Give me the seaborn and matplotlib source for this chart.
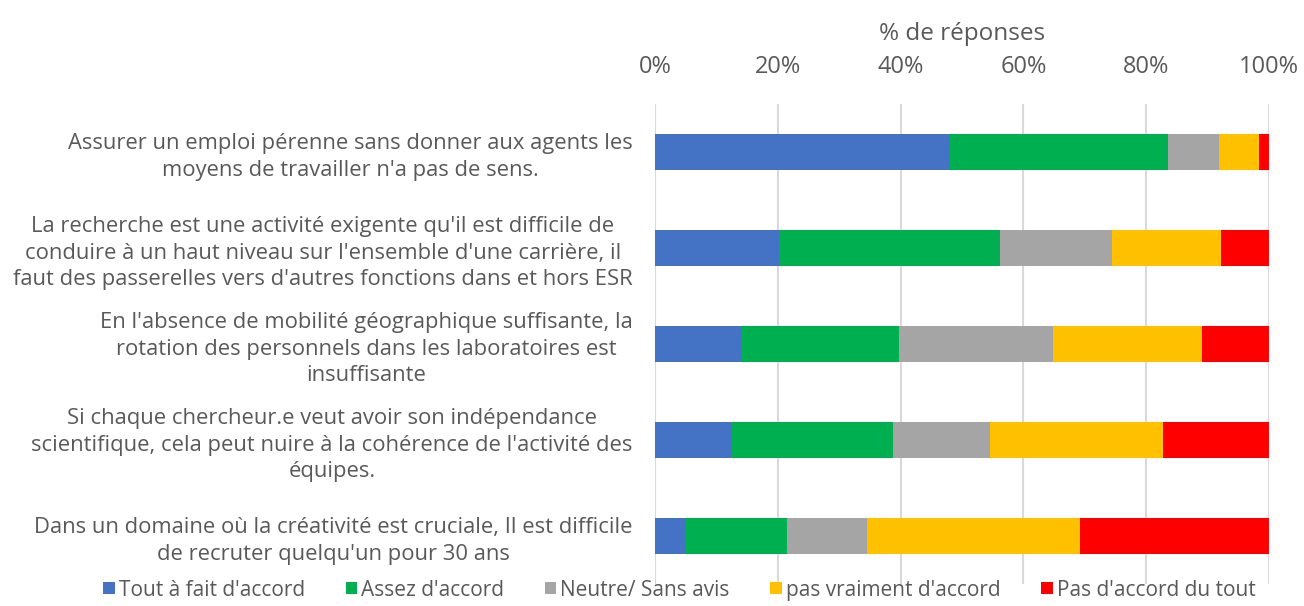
import matplotlib
matplotlib.use("Agg")
import matplotlib.pyplot as plt
import seaborn as sns
import pandas as pd
import numpy as np
from matplotlib.patches import Patch

categories = [
    "Assurer un emploi pérenne sans donner aux agents les\nmoyens de travailler n'a pas de sens.",
    "La recherche est une activité exigente qu'il est difficile de\nconduire à un haut niveau sur l'ensemble d'une carrière, il\nfaut des passerelles vers d'autres fonctions dans et hors ESR",
    "En l'absence de mobilité géographique suffisante, la\nrotation des personnels dans les laboratoires est\ninsuffisante",
    "Si chaque chercheur.e veut avoir son indépendance\nscientifique, cela peut nuire à la cohérence de l'activité des\néquipes.",
    "Dans un domaine où la créativité est cruciale, Il est difficile\nde recruter quelqu'un pour 30 ans",
]
series = ["Tout à fait d'accord", "Assez d'accord", "Neutre/ Sans avis",
          "pas vraiment d'accord", "Pas d'accord du tout"]
tout_a_fait = [48.0, 20.2, 14.2, 12.5, 5.1]
assez = [35.6, 36.0, 25.6, 26.3, 16.4]
neutre = [8.2, 18.3, 25.0, 15.7, 13.0]
pas_vraiment = [6.5, 17.7, 24.3, 28.2, 34.7]
pas_du_tout = [1.7, 7.8, 10.9, 17.3, 30.8]
colors = ["#4472C4", "#00B050", "#A5A5A5", "#FFC000", "#FF0000"]
xticks = [0, 20, 40, 60, 80, 100]
xlabel = "% de réponses"

values = [tout_a_fait, assez, neutre, pas_vraiment, pas_du_tout]
df = pd.DataFrame({s: v for s, v in zip(series, values)})
df["cat"] = categories
cum = df[series].cumsum(axis=1)

sns.set_theme(style="white")
plt.rcParams["font.family"] = ["Open Sans", "DejaVu Sans"]
txt = "#595959"

fig = plt.figure(figsize=(13.04, 6.06), dpi=100)
ax = fig.add_axes([655/1304, 22/606, 614/1304, 480/606])

for s, c in reversed(list(zip(series, colors))):
    sns.barplot(x=cum[s], y=df["cat"], orient="h", color=c, width=0.385,
                saturation=1, ax=ax, linewidth=0, zorder=3)

ax.set_xlim(0, 100)
ax.set_ylim(4.5, -0.5)
ax.set_xticks(xticks)
ax.set_xticklabels([f"{t}%" for t in xticks])
ax.xaxis.tick_top()
ax.xaxis.set_label_position("top")
ax.set_xlabel(xlabel, fontsize=17.5, color=txt, labelpad=11)
ax.set_ylabel("")
ax.tick_params(axis="x", length=0, pad=18, labelsize=17, labelcolor=txt)
ax.tick_params(axis="y", length=0, pad=16, labelsize=15.8, labelcolor=txt)
for lab in ax.get_yticklabels():
    lab.set_multialignment("center")
    lab.set_linespacing(1.35)
ax.grid(axis="x", color="#D9D9D9", linewidth=1.5, zorder=0)
ax.grid(axis="y", visible=False)
for sp in ax.spines.values():
    sp.set_visible(False)

handles = [Patch(facecolor=c, edgecolor="none") for c in colors]
leg = fig.legend(handles, series, loc="lower center", ncol=5,
                 bbox_to_anchor=(0.521, -0.022), frameon=False, fontsize=15,
                 handlelength=0.55, handleheight=0.55, handletextpad=0.2,
                 columnspacing=1.95)
for t in leg.get_texts():
    t.set_color(txt)

fig.savefig("out.png", dpi=100)
